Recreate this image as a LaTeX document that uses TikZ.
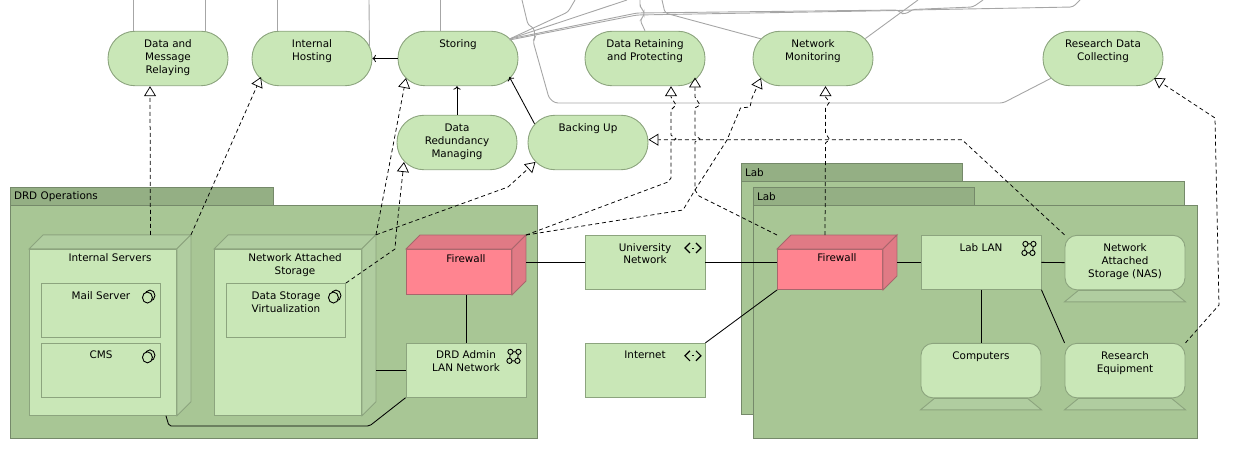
\documentclass[tikz,border=0pt]{standalone}
\usepackage{fontspec}
\setmainfont{DejaVu Sans}
\usetikzlibrary{arrows.meta}

\definecolor{boxgreen}{HTML}{C9E7B7}
\definecolor{boxline}{HTML}{8CA47E}
\definecolor{bodygreen}{HTML}{A8C695}
\definecolor{tabgreen}{HTML}{94AF84}
\definecolor{groupline}{HTML}{75896A}
\definecolor{cubegreen}{HTML}{B0CDA0}
\definecolor{wallred}{HTML}{FF8490}
\definecolor{walldark}{HTML}{E07A85}
\definecolor{wallline}{HTML}{A8666C}
\definecolor{wiregray}{HTML}{A6A6A6}

\tikzset{
    txt/.style={font=\fontsize{10.4pt}{13pt}\selectfont, inner sep=0pt, line width=0.9pt},
    pill/.style={txt, rectangle, rounded corners=27pt, draw=boxline, fill=boxgreen, minimum width=120pt, minimum height=54.5pt},
    flatbox/.style={txt, rectangle, draw=boxline, fill=boxgreen, minimum width=120pt, minimum height=54pt},
    screen/.style={txt, rectangle, rounded corners=12pt, draw=boxline, fill=boxgreen, minimum width=120pt, minimum height=54.5pt},
    front/.style={txt, rectangle, draw=boxline, fill=boxgreen, minimum width=147pt, minimum height=166pt},
    wall/.style={txt, rectangle, draw=wallline, fill=wallred, minimum width=105pt},
    tabbox/.style={txt, rectangle, draw=groupline, fill=tabgreen, inner xsep=4pt, minimum height=18.5pt, align=left},
    body/.style={rectangle, draw=groupline, fill=bodygreen, line width=0.9pt},
    cubeface/.style={draw=boxline, fill=cubegreen, line width=0.9pt},
    wallface/.style={draw=wallline, fill=walldark, line width=0.9pt},
    link/.style={black, line width=0.85pt},
    wire/.style={wiregray, line width=0.9pt, rounded corners=3pt},
    realize/.style={black, line width=0.75pt, dash pattern=on 4pt off 3pt, -{Triangle[open, length=10pt, width=12pt]}},
    compicon/.pic={
        \draw[line width=0.9pt] (1.5,-1) ellipse [x radius=5, y radius=5.5];
        \draw[line width=0.9pt, fill=boxgreen] (-1,1) ellipse [x radius=5, y radius=5.5];
    },
    neticon/.pic={
        \draw[line width=0.9pt] (-3.5,-4.5) -- (4.5,-4.5) -- (3.5,4.5) -- (-4.5,4.5) -- cycle;
        \foreach \a/\b in {-3.5/-4.5, 4.5/-4.5, 3.5/4.5, -4.5/4.5}
            \draw[line width=0.9pt, fill=boxgreen] (\a,\b) circle [radius=2.6];
    },
    pathicon/.pic={
        \draw[line width=1.2pt] (-3,-5) -- (-8,0) -- (-3,5);
        \draw[line width=1.2pt] (3,-5) -- (8,0) -- (3,5);
        \draw[line width=0.8pt] (-1,0) -- (1,0);
    },
}

\newcommand{\boxtext}[3][0pt]{\hspace*{#1}\parbox[c][#2pt][t]{100pt}{\centering\strut #3}\hspace*{-#1}}
\newcommand{\cubefaces}[2]{%
    \draw[#2] (#1.north west) -- ++(14,-14) -- ([shift={(14,-14)}]#1.north east) -- (#1.north east) -- cycle;
    \draw[#2] (#1.north east) -- ++(14,-14) -- ([shift={(14,-14)}]#1.south east) -- (#1.south east) -- cycle;
    \coordinate (#1-top) at ([shift={(14,-14)}]#1.north east);
}
\newcommand{\standbase}[1]{%
    \draw[cubeface] ([xshift=14pt]#1.south west) -- ++(-14,11.5) -- ([yshift=-11.5pt]#1.south east) -- ([xshift=-14pt]#1.south east) -- cycle;
}

\begin{document}
\begin{tikzpicture}[x=1pt, y=-1pt]
    \useasboundingbox (0,0) rectangle (1240,449);

    \foreach \n/\x in {a/133, b/205, c/277, d/369, e/440, f/522, g/575, h/627, i/640, j/662, k/918, l/983, m/1080}
        \coordinate (cut\n) at (\x,0);

    \node[body, minimum width=527pt, minimum height=232.5pt] (drdBody) at (273.5,321.75) {};
    \node[tabbox, text width=255pt] (drdTab) at (141.5,196.25) {DRD Operations};
    \node[body, minimum width=443pt, minimum height=232.5pt] (labBackBody) at (962.5,298) {};
    \node[tabbox, text width=213pt] (labBackTab) at (851.5,172.5) {Lab};
    \node[tabbox, text width=213.5pt] (labTab) at (863.75,196.25) {Lab};
    \node[body, minimum width=444.5pt, minimum height=232.5pt] (labBody) at (975.25,321.75) {};

    \node[pill] (relay) at (168,58.5) {\boxtext{41}{Data and\\Message\\Relaying}};
    \node[pill] (hosting) at (312,58.5) {\boxtext{41}{Internal\\Hosting}};
    \node[pill] (storing) at (458,58.5) {\boxtext{41}{Storing}};
    \node[pill] (retain) at (645,58.5) {\boxtext{41}{Data Retaining\\and Protecting}};
    \node[pill] (monitor) at (813,58.5) {\boxtext{41}{Network\\Monitoring}};
    \node[pill] (collect) at (1103,58.5) {\boxtext{41}{Research Data\\Collecting}};
    \node[pill] (redund) at (457,142.5) {\boxtext{41}{Data\\Redundancy\\Managing}};
    \node[pill] (backup) at (588,142.5) {\boxtext{41}{Backing Up}};

    \node[front] (servers) at (103,332.3) {\boxtext[7pt]{159}{Internal Servers}};
    \cubefaces{servers}{cubeface}
    \node[front] (nasBox) at (288,332.3) {\boxtext[7pt]{159}{Network Attached\\Storage}};
    \cubefaces{nasBox}{cubeface}
    \node[flatbox, minimum width=119pt] (mail) at (101,310.5) {\boxtext{41}{Mail Server}};
    \node[flatbox, minimum width=119pt] (cms) at (101,370.3) {\boxtext{41}{CMS}};
    \node[flatbox, minimum width=119pt] (virt) at (286,310.5) {\boxtext{41}{Data Storage\\Virtualization}};
    \pic at ([shift={(-12.5,13.5)}]mail.north east) {compicon};
    \pic at ([shift={(-12.5,13.5)}]cms.north east) {compicon};
    \pic at ([shift={(-11.5,13.5)}]virt.north east) {compicon};

    \node[wall, minimum height=45pt] (wallA) at (459,272) {\boxtext[7pt]{38.2}{Firewall}};
    \cubefaces{wallA}{wallface}
    \node[wall, minimum height=40pt] (wallB) at (830,269.5) {\boxtext[7pt]{33.2}{Firewall}};
    \cubefaces{wallB}{wallface}

    \node[flatbox] (adminLan) at (466,370.3) {\boxtext{41}{DRD Admin\\LAN Network}};
    \node[flatbox] (uniNet) at (645,262.4) {\boxtext{41}{University\\Network}};
    \node[flatbox] (inet) at (645,370.3) {\boxtext{41}{Internet}};
    \node[flatbox] (labLan) at (981,262.4) {\boxtext{41}{Lab LAN}};
    \pic at ([shift={(-12.5,13.5)}]adminLan.north east) {neticon};
    \pic at ([shift={(-12.5,13.5)}]labLan.north east) {neticon};
    \pic at ([shift={(-12.5,13)}]uniNet.north east) {pathicon};
    \pic at ([shift={(-12.5,13)}]inet.north east) {pathicon};

    \node[screen] (labNas) at (1125,262.6) {\boxtext{41}{Network\\Attached\\Storage (NAS)}};
    \node[screen] (computers) at (981,370.6) {\boxtext{41}{Computers}};
    \node[screen] (equip) at (1125,370.6) {\boxtext{41}{Research\\Equipment}};
    \standbase{labNas}
    \standbase{computers}
    \standbase{equip}

    \draw[wire] ([xshift=-35pt]relay.north) -- (cuta);
    \draw[wire] ([xshift=37pt]relay.north) -- (cutb);
    \draw[wire] ([xshift=-35pt]hosting.north) -- (cutc);
    \draw[wire] ([shift={(-3,-12.5)}]hosting.east) -- (cutd);
    \draw[wire] ([xshift=-18pt]storing.north) -- (cute);
    \draw[wire] (cutf) -- (528,25) -- (534,28) -- (535,38) -- (533,41) -- (549,98) -- (555,103) -- (1003,103) -- ([shift={(9,19.5)}]collect.west);
    \draw[wire] ([shift={(-9,-19.5)}]storing.east) -- (568,12) -- (cutg);
    \draw[wire] ([shift={(-9,-19.5)}]storing.east) -- (cuth);
    \draw[wire] ([shift={(-9,-19.5)}]storing.east) -- (637,13) -- (898,10) -- (902,14) -- (908,13) -- (912,9.5) -- (973,7) -- (cutl);
    \draw[wire] ([shift={(-9,-18.5)}]storing.east) -- (637,15) -- (898,10.5) -- (912,10) -- (1073,7) -- (cutm);
    \draw[wire] (retain.north) -- (640,20) -- (644,16) -- (644,11) -- (640,7) -- (cuti);
    \draw[wire] ([shift={(9,-19.5)}]monitor.west) -- (665,13) -- (cutj);
    \draw[wire] ([shift={(-8,-20)}]monitor.east) -- (cutk);

    \draw[->, link] (storing.west) -- (hosting.east);
    \draw[->, link] (redund.north) -- (redund.north |- storing.south);
    \draw[->, link] ([shift={(7,9)}]backup.north west) -- ([shift={(-9,18.5)}]storing.east);

    \draw[link] (uniNet.west) -- (uniNet.west -| wallA-top);
    \draw[link] (adminLan.north) -- (adminLan.north |- wallA.south);
    \draw[link] (adminLan.west) -- (adminLan.west -| nasBox-top);
    \draw[link, rounded corners=2pt] ([xshift=-11pt]servers.south east) -- (169,426) -- (369.5,426) -- (adminLan.south west);
    \draw[link] (uniNet.east) -- (uniNet.east -| wallB.west);
    \draw[link] (inet.north east) -- (wallB.south west);
    \draw[link] (labLan.west) -- (labLan.west -| wallB-top);
    \draw[link] (labLan.east) -- (labNas.west);
    \draw[link] (labLan.south) -- (computers.north);
    \draw[link] (labLan.south east) -- (equip.north west);

    \draw[realize] ([xshift=-40.5pt]servers-top) -- ([xshift=-18pt]relay.south);
    \draw[realize] (servers-top) -- ([shift={(-51,18.5)}]hosting.center);
    \draw[realize] (nasBox-top) -- ([shift={(-52,19.5)}]storing.center);
    \draw[realize] (virt.north east) -- (395,249) -- (396,235) -- ([shift={(-53,19.5)}]redund.center);
    \draw[realize] (nasBox-top) -- (508,187) -- ([shift={(-52.5,19.5)}]backup.center);
    \draw[realize] (wallA-top) -- (668,182) -- (671,178) -- (671,142) -- (676,139) -- (671,135) -- (671,110) -- (676,105) -- (671,97) -- ([xshift=26pt]retain.south);
    \draw[realize] (wallA-top) -- (683,210) -- (695,190) -- (727,140) -- (740.5,108) -- (750,107) -- (752,98) -- ([shift={(-52,19.5)}]monitor.center);
    \draw[realize] ([yshift=14pt]wallB.north west) -- (699,196) -- (695,190) -- (695,142) -- (700,139) -- (695,135) -- (695,108) -- (700,105) -- (695,97) -- ([shift={(50,19)}]retain.center);
    \draw[realize] ([shift={(-5,-14)}]wallB.north) -- (825.5,143) -- (829.5,139.5) -- (825.5,133) -- (825.5,108) -- (829.5,102) -- (825.5,97) -- ([xshift=12.5pt]monitor.south);
    \draw[realize] (labNas.north west) -- (962,139.7) -- ([shift={(0,-2.8)}]backup.east);
    \draw[realize] (equip.north east) -- (1219,305) -- (1215,118) -- ([shift={(51,19.5)}]collect.center);
\end{tikzpicture}
\end{document}
